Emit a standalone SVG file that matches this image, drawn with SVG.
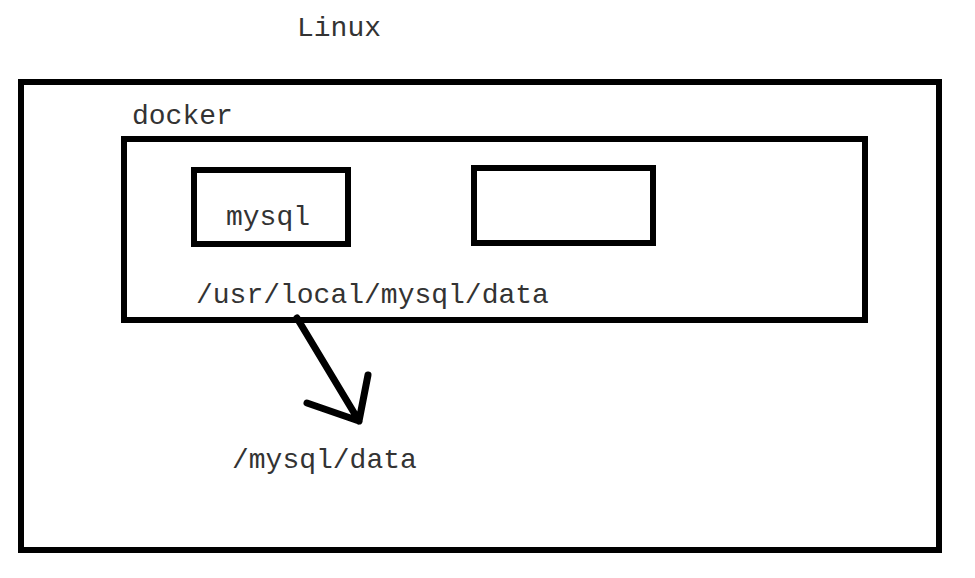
<svg xmlns="http://www.w3.org/2000/svg" width="975" height="578" viewBox="0 0 975 578">
<style>
.box{fill:none;stroke:#000;stroke-width:6}
.t{font-family:"Liberation Mono","DejaVu Sans Mono",monospace;font-size:28px;fill:#333}
.arr{fill:none;stroke:#000;stroke-width:7;stroke-linecap:round;stroke-linejoin:round}
</style>
<rect width="975" height="578" fill="#fff"/>
<g id="linux">
<text class="t" x="297" y="36">Linux</text>
<rect class="box" x="21" y="82" width="918" height="468"/>
</g>
<g id="docker">
<text class="t" x="132" y="124">docker</text>
<rect class="box" x="124" y="139" width="741" height="181"/>
</g>
<g id="mysql">
<rect class="box" x="194" y="170" width="154" height="74"/>
<text class="t" x="226" y="225">mysql</text>
</g>
<g id="empty">
<rect class="box" x="474" y="168" width="179" height="75"/>
</g>
<g id="path-container">
<text class="t" x="196" y="303">/usr/local/mysql/data</text>
</g>
<g id="path-host">
<text class="t" x="232" y="468">/mysql/data</text>
</g>
<g id="connectors">
<path class="arr" d="M297,318 L359,421 M368,375 L359,421 L307,403"/>
</g>
</svg>
